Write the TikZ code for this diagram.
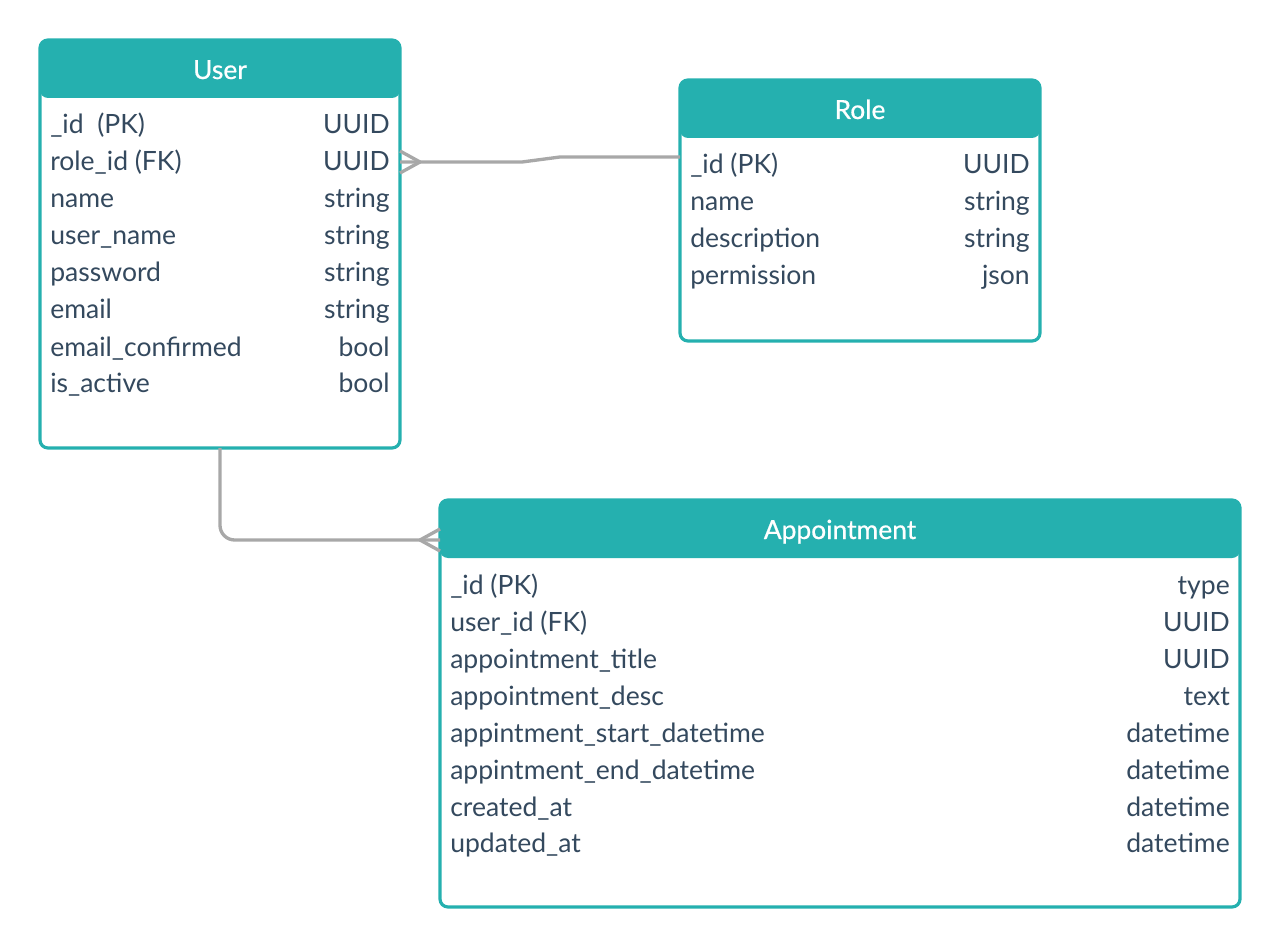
\documentclass[tikz,border=0pt]{standalone}
\usepackage{fontspec}
\setmainfont{Lato}
\newfontfamily\ttlfont[FakeBold=0.6]{Lato}
\definecolor{erteal}{HTML}{25B0AF}
\definecolor{ertext}{HTML}{34495E}
\definecolor{ergray}{HTML}{A8A8A8}
\begin{document}
\begin{tikzpicture}[x=0.75pt,y=-0.75pt,
  entity/.style={draw=erteal, line width=2.4pt, rounded corners=6pt, inner sep=0pt, outer sep=0pt, fill=white,
    path picture={\fill[erteal] (path picture bounding box.north west) rectangle ([yshift=-43.5pt]path picture bounding box.north east);}},
  fld/.style={anchor=base west, inner sep=0pt, text=ertext, font=\fontsize{19.9}{22}\selectfont},
  typ/.style={anchor=base east, inner sep=0pt, text=ertext, font=\fontsize{19.9}{22}\selectfont},
  ttl/.style={anchor=base, inner sep=0pt, text=white, font=\ttlfont\fontsize{19.8}{22}\selectfont},
  rel/.style={draw=ergray, line width=2.5pt}]
\useasboundingbox (0,0) rectangle (1280,948);

% User
\node[entity, minimum width=270pt, minimum height=306pt] (user) at (220,244) {};
\node[ttl] (usert) at (220,79) {User};
\node[fld] (u1) at (50,134) {\_id~~(PK)};   \node[typ] (u1t) at (390,134) {UUID};
\node[fld] (u2) at (50,171) {role\_id (FK)}; \node[typ] (u2t) at (390,171) {UUID};
\node[fld] (u3) at (50,208) {name};          \node[typ] (u3t) at (390,208) {string};
\node[fld] (u4) at (50,245) {user\_name};    \node[typ] (u4t) at (390,245) {string};
\node[fld] (u5) at (50,282) {password};      \node[typ] (u5t) at (390,282) {string};
\node[fld] (u6) at (50,319) {email};         \node[typ] (u6t) at (390,319) {string};
\node[fld] (u7) at (50,356) {email\_confirmed}; \node[typ] (u7t) at (390,356) {bool};
\node[fld] (u8) at (50,392) {is\_active};    \node[typ] (u8t) at (390,392) {bool};

% Role
\node[entity, minimum width=270pt, minimum height=195.75pt] (role) at (860,210.5) {};
\node[ttl] (rolet) at (860,119) {Role};
\node[fld] (r1) at (690,174) {\_id (PK)};    \node[typ] (r1t) at (1030,174) {UUID};
\node[fld] (r2) at (690,211) {name};         \node[typ] (r2t) at (1030,211) {string};
\node[fld] (r3) at (690,248) {description};  \node[typ] (r3t) at (1030,248) {string};
\node[fld] (r4) at (690,285) {permission};   \node[typ] (r4t) at (1030,285) {json};

% Appointment
\node[entity, minimum width=600pt, minimum height=305.25pt] (appt) at (840,703.5) {};
\node[ttl] (apptt) at (840,539) {Appointment};
\node[fld] (a1) at (450,594) {\_id (PK)};              \node[typ] (a1t) at (1230,594) {type};
\node[fld] (a2) at (450,631) {user\_id (FK)};          \node[typ] (a2t) at (1230,631) {UUID};
\node[fld] (a3) at (450,668) {appointment\_title};     \node[typ] (a3t) at (1230,668) {UUID};
\node[fld] (a4) at (450,705) {appointment\_desc};      \node[typ] (a4t) at (1230,705) {text};
\node[fld] (a5) at (450,742) {appintment\_start\_datetime}; \node[typ] (a5t) at (1230,742) {datetime};
\node[fld] (a6) at (450,779) {appintment\_end\_datetime};   \node[typ] (a6t) at (1230,779) {datetime};
\node[fld] (a7) at (450,816) {created\_at};            \node[typ] (a7t) at (1230,816) {datetime};
\node[fld] (a8) at (450,852) {updated\_at};            \node[typ] (a8t) at (1230,852) {datetime};

% Connectors
\coordinate (rA) at ([shift={(0,-53.5)}]role.west);
\coordinate (uA) at ([shift={(0,-82)}]user.east);
\draw[rel] (rA) -- ([shift={(-120,0)}]rA) -- ([shift={(122,0)}]uA) -- (uA);
\draw[rel, line join=round] ([shift={(0,-11)}]uA) -- ([shift={(20,0)}]uA) -- ([shift={(0,11)}]uA);

\coordinate (aA) at ([shift={(0,-163.5)}]appt.west);
\draw[rel, rounded corners=11pt] (user.south) -- (user.south |- aA) -- (aA);
\draw[rel, line join=round] ([shift={(0,-11)}]aA) -- ([shift={(-20,0)}]aA) -- ([shift={(0,11)}]aA);
\end{tikzpicture}
\end{document}
